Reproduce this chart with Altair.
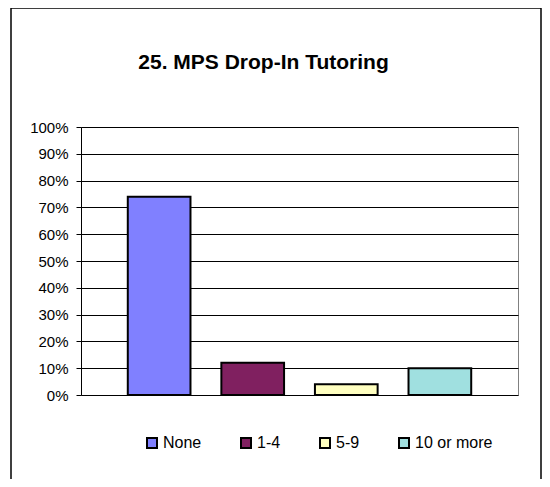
import altair as alt
import pandas as pd

categories = ["None", "1-4", "5-9", "10 or more"]
values = [0.74, 0.12, 0.04, 0.10]
colors = ["#8080FF", "#802060", "#FFFFC0", "#A0E0E0"]
y_ticks = [0, 0.1, 0.2, 0.3, 0.4, 0.5, 0.6, 0.7, 0.8, 0.9, 1.0]
title_text = "25. MPS Drop-In Tutoring"

FONT = "Liberation Sans"

df = pd.DataFrame({"category": categories, "value": values})

border = alt.Chart(pd.DataFrame({"a": [0]})).mark_rect(
    fill="transparent", stroke="black", strokeWidth=1.5
).encode(
    x=alt.value(-70), x2=alt.value(460), y=alt.value(-119), y2=alt.value(420)
)

bars = alt.Chart(df).mark_bar(stroke="black", strokeWidth=2).encode(
    x=alt.X("category:N", sort=categories, axis=None,
            scale=alt.Scale(paddingInner=0.33, paddingOuter=0.5)),
    y=alt.Y("value:Q", scale=alt.Scale(domain=[0, 1], nice=False),
            axis=alt.Axis(format=".0%", values=y_ticks, grid=True,
                          gridColor="black", gridWidth=1, gridOpacity=1,
                          domainColor="black", domainWidth=1,
                          tickColor="black", tickSize=5, tickWidth=1,
                          labelPadding=8, labelFont=FONT, labelFontSize=15,
                          labelColor="black", title=None)),
    color=alt.Color("category:N", sort=categories,
                    scale=alt.Scale(domain=categories, range=colors),
                    legend=alt.Legend(orient="none", legendX=63, legendY=308,
                                      direction="horizontal", title=None,
                                      symbolType="square", symbolSize=100,
                                      symbolStrokeColor="black", symbolStrokeWidth=2,
                                      labelFont=FONT, labelFontSize=16,
                                      labelColor="black", columnPadding=35,
                                      labelOffset=3)),
)

chart = alt.layer(border, bars).properties(
    width=437, height=268,
    title=alt.TitleParams(title_text, font=FONT, fontSize=21, fontWeight="bold",
                          color="black", anchor="middle", dx=-36, offset=-66),
    padding={"left": 73, "top": 119, "right": 24, "bottom": 84},
    autosize="none",
).configure_view(stroke="#808080", strokeWidth=1)

chart.save("out.html", embed_options={"renderer": "svg", "actions": False})
